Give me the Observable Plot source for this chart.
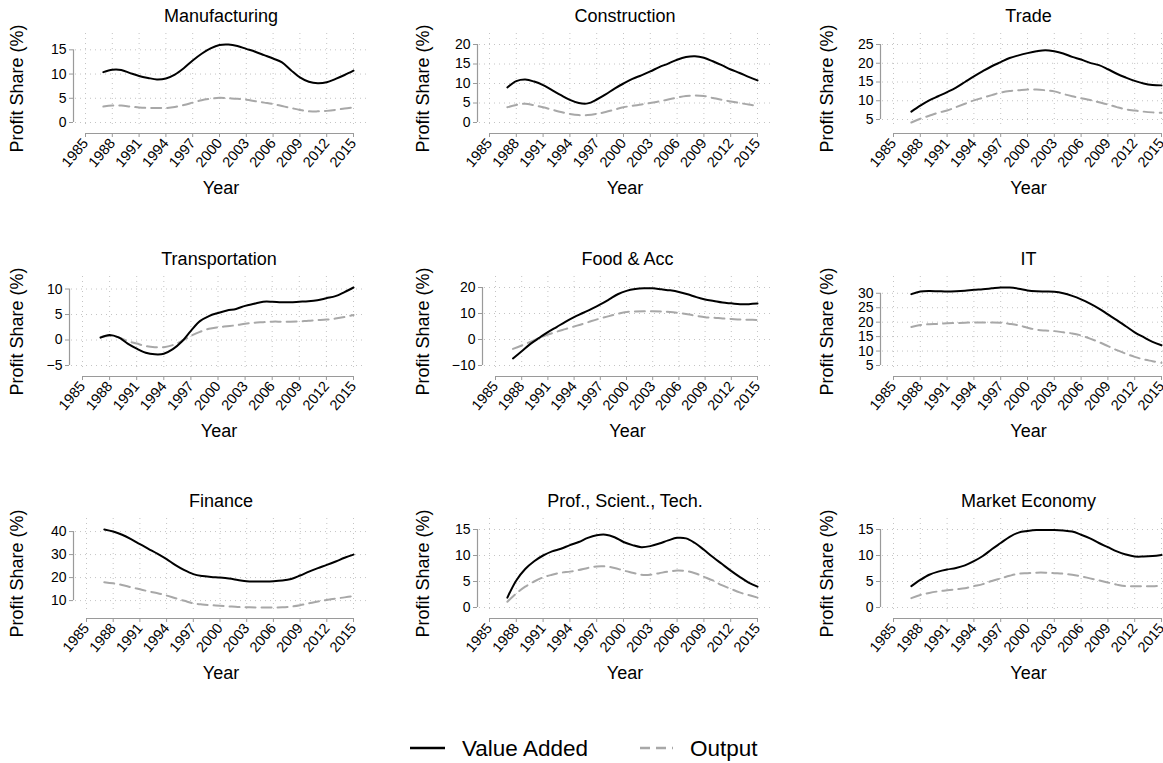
<!DOCTYPE html>
<html><head><meta charset="utf-8">
<script src="https://cdn.jsdelivr.net/npm/d3@7"></script>
<script src="https://cdn.jsdelivr.net/npm/@observablehq/plot@0.6"></script>
<style>
body{margin:0;background:#fff;font-family:"Liberation Sans",Arial,Helvetica,sans-serif;}
#root{position:relative;width:1163px;height:763px;overflow:hidden;background:#fff;}
.panel{position:absolute;}
#legend{position:absolute;left:0;top:728px;}
</style></head><body><div id="root"></div><script>
// ---- data ----
const years = [1987,1988,1989,1990,1991,1992,1993,1994,1995,1996,1997,1998,1999,2000,2001,2002,2003,2004,2005,2006,2007,2008,2009,2010,2011,2012,2013,2014,2015];
const xTicks = [1985,1988,1991,1994,1997,2000,2003,2006,2009,2012,2015];
const sectors = ["Manufacturing","Construction","Trade","Transportation","Food & Acc","IT","Finance","Prof., Scient., Tech.","Market Economy"];

const vaManufacturing = [10.4,10.9,10.85,10.2,9.6,9.2,8.9,9.1,9.9,11.2,12.8,14.2,15.3,16.0,16.1,15.8,15.2,14.6,13.9,13.2,12.4,10.8,9.3,8.4,8.1,8.3,9.0,9.8,10.7];
const outManufacturing = [3.3,3.5,3.5,3.3,3.1,3.0,3.0,3.0,3.2,3.6,4.1,4.6,4.9,5.1,5.0,4.9,4.7,4.4,4.1,3.8,3.4,3.0,2.6,2.3,2.3,2.4,2.6,2.9,3.1];
const vaConstruction = [9.0,10.6,11.0,10.5,9.6,8.3,7.0,5.8,5.0,4.9,5.9,7.2,8.7,10.0,11.2,12.1,13.1,14.2,15.1,16.1,16.8,17.0,16.6,15.7,14.7,13.6,12.7,11.7,10.8];
const outConstruction = [3.9,4.5,4.8,4.4,3.9,3.3,2.7,2.2,1.9,1.9,2.2,2.7,3.3,3.9,4.3,4.6,5.0,5.4,5.9,6.4,6.8,6.9,6.8,6.3,5.8,5.4,5.0,4.6,4.3];
const vaTrade = [7.1,8.7,10.1,11.2,12.3,13.5,15.0,16.5,17.9,19.2,20.3,21.4,22.1,22.7,23.2,23.5,23.2,22.6,21.7,21.0,20.1,19.5,18.4,17.2,16.2,15.3,14.6,14.2,14.1];
const outTrade = [4.2,5.2,6.0,6.8,7.4,8.3,9.2,10.1,10.8,11.5,12.2,12.6,12.8,13.0,13.0,12.8,12.5,11.8,11.2,10.7,10.2,9.6,9.0,8.3,7.7,7.4,7.1,6.9,6.8];
const vaTransportation = [0.46,1.0,0.5,-0.7,-1.7,-2.5,-2.8,-2.7,-1.8,-0.3,1.8,3.7,4.7,5.3,5.8,6.1,6.7,7.1,7.5,7.5,7.4,7.4,7.5,7.6,7.8,8.2,8.6,9.4,10.3];
const outTransportation = [0.6,0.8,0.5,-0.2,-0.7,-1.2,-1.4,-1.4,-1.0,-0.2,0.8,1.6,2.2,2.5,2.7,2.9,3.2,3.4,3.5,3.6,3.6,3.6,3.65,3.8,3.9,4.0,4.2,4.5,4.9];
const vaFood = [-7.3,-4.5,-1.7,0.6,2.8,4.8,6.8,8.6,10.2,11.8,13.5,15.4,17.4,18.7,19.4,19.7,19.7,19.3,18.9,18.3,17.4,16.3,15.4,14.8,14.2,13.9,13.6,13.6,13.8];
const outFood = [-3.6,-2.3,-0.9,0.6,1.9,3.0,4.0,5.0,6.0,7.1,8.1,9.0,9.9,10.6,10.8,10.9,10.9,10.8,10.6,10.2,9.7,9.1,8.6,8.4,8.1,7.9,7.7,7.6,7.5];
const vaIT = [29.7,30.6,30.8,30.7,30.6,30.7,30.9,31.2,31.4,31.7,32.0,32.0,31.6,31.0,30.7,30.6,30.5,30.0,29.1,27.9,26.4,24.7,22.7,20.7,18.6,16.5,14.8,13.2,12.0];
const outIT = [18.3,19.0,19.3,19.4,19.6,19.7,19.8,19.9,19.9,19.9,19.8,19.4,18.9,18.1,17.4,17.1,16.9,16.5,16.1,15.4,14.3,13.1,11.7,10.3,9.1,8.0,7.1,6.5,5.9];
const vaFinance = [40.9,40.0,38.6,36.7,34.5,32.4,30.3,28.0,25.4,23.2,21.5,20.7,20.3,20.0,19.6,19.0,18.4,18.3,18.3,18.4,18.7,19.4,20.9,22.6,24.1,25.5,27.0,28.6,30.0];
const outFinance = [18.0,17.5,16.8,15.8,14.9,14.0,13.2,12.2,11.0,9.9,8.8,8.3,8.0,7.8,7.5,7.2,7.1,7.0,7.0,7.0,7.1,7.4,8.0,8.8,9.6,10.3,10.9,11.4,12.0];
const vaProf = [1.9,5.2,7.4,8.9,10.0,10.8,11.3,12.0,12.6,13.4,13.9,14.0,13.5,12.6,12.0,11.6,11.8,12.3,12.9,13.4,13.3,12.4,11.1,9.7,8.4,7.1,5.9,4.8,4.0];
const outProf = [1.1,2.7,4.0,5.0,5.8,6.3,6.7,6.9,7.2,7.6,7.9,7.9,7.6,7.1,6.7,6.3,6.3,6.6,6.9,7.1,7.0,6.6,5.9,5.2,4.3,3.6,2.9,2.4,1.9];
const vaMarket = [4.1,5.3,6.3,6.9,7.3,7.6,8.1,8.9,9.9,11.2,12.4,13.6,14.4,14.7,14.9,14.9,14.9,14.8,14.6,14.0,13.3,12.4,11.6,10.8,10.2,9.8,9.8,9.9,10.1];
const outMarket = [1.8,2.4,2.8,3.1,3.3,3.5,3.7,4.1,4.5,5.1,5.6,6.1,6.5,6.6,6.7,6.7,6.6,6.5,6.3,6.0,5.6,5.2,4.8,4.4,4.1,4.1,4.1,4.1,4.2];

const yTicksList = [[0,5,10,15],[0,5,10,15,20],[5,10,15,20,25],[-5,0,5,10],[-10,0,10,20],[5,10,15,20,25,30],[10,20,30,40],[0,5,10,15],[0,5,10,15]];
const vaList = [vaManufacturing,vaConstruction,vaTrade,vaTransportation,vaFood,vaIT,vaFinance,vaProf,vaMarket];
const outList = [outManufacturing,outConstruction,outTrade,outTransportation,outFood,outIT,outFinance,outProf,outMarket];

// ---- layout ----
const W = 404, H = 243;
const colLeft = [0, 406, 810], rowTop = [0, 243, 485];
const axisLineX = [73,71,70,69,76,70,73,71,70];
const x1985px = [85,83,83,82,89,83,86,83,83];
const x2015px = [353,351,351];
const FONT = "'Liberation Sans', Arial, Helvetica, sans-serif";
const GRID = "#c4c4c4", AXIS = "#9a9a9a";
const fmtY = d => d < 0 ? "\u2212" + (-d) : String(d);

const root = document.getElementById("root");
sectors.forEach((name, i) => {
  const r = Math.floor(i / 3), c = i % 3;
  const rows = years.map((yr, j) => ({year: yr, va: vaList[i][j], out: outList[i][j]}));
  const ticks = yTicksList[i];
  const all = [...vaList[i], ...outList[i], ...ticks];
  const lo = d3.min(all), hi = d3.max(all);
  const ax = axisLineX[i], x0 = x1985px[i], x1 = x2015px[c];
  const mLeft = ax + 2, mRight = W - (x1 + 13);
  const frameTop = 33, frameBottom = 127;
  const svg = Plot.plot({
    width: W, height: H,
    marginLeft: mLeft, marginRight: mRight, marginTop: frameTop, marginBottom: H - frameBottom,
    style: {fontFamily: FONT, fontSize: "14px", color: "black", background: "transparent", overflow: "visible"},
    x: {domain: [1985, 2015], range: [x0, x1], axis: null},
    y: {domain: [lo, hi], range: [122, 44], axis: null},
    marks: [
      Plot.gridY(ticks, {stroke: GRID, strokeOpacity: 1, strokeDasharray: "1,4"}),
      Plot.gridX(xTicks, {stroke: GRID, strokeOpacity: 1, strokeDasharray: "1,4"}),
      Plot.ruleX([1985], {y1: d3.min(ticks), y2: d3.max(ticks), dx: ax - x0, stroke: AXIS, strokeWidth: 1.2}),
      Plot.axisY(ticks, {anchor: "left", dx: -2, tickSize: 4, tickPadding: 3, stroke: AXIS, fill: "black", fontSize: 14, tickFormat: fmtY, label: null, ariaLabel: "yticks"}),
      Plot.ruleY([lo], {x1: 1985, x2: 2015, dy: 11, stroke: AXIS, strokeWidth: 1.2}),
      Plot.axisX(xTicks, {anchor: "bottom", dy: 6, tickSize: 4, stroke: AXIS, tickFormat: () => "", label: null, ariaLabel: "xticks"}),
      Plot.text(xTicks, {x: d => d, text: d => String(d), frameAnchor: "bottom", dy: 13, rotate: -50, textAnchor: "end", lineAnchor: "middle", fontSize: 14.5, fill: "black"}),
      Plot.line(rows, {x: "year", y: "out", stroke: "#a8a8a8", strokeWidth: 2, strokeDasharray: "10,6", curve: "catmull-rom"}),
      Plot.line(rows, {x: "year", y: "va", stroke: "black", strokeWidth: 2, curve: "catmull-rom"}),
      Plot.text([name], {frameAnchor: "top", dy: -17, textAnchor: "middle", lineAnchor: "middle", fontSize: 18, fill: "black"}),
      Plot.text(["Year"], {frameAnchor: "bottom", dy: 61, textAnchor: "middle", lineAnchor: "middle", fontSize: 18, fill: "black"}),
      Plot.text(["Profit Share (%)"], {frameAnchor: "left", dx: 17 - mLeft, dy: 8, rotate: -90, textAnchor: "middle", lineAnchor: "middle", fontSize: 18, fill: "black"})
    ]
  });
  svg.classList.add("panel");
  svg.style.left = colLeft[c] + "px";
  svg.style.top = rowTop[r] + "px";
  svg.style.position = "absolute";
  root.appendChild(svg);
});

// legend
const legend = document.createElementNS("http://www.w3.org/2000/svg", "svg");
legend.setAttribute("id", "legend");
legend.setAttribute("width", 1163);
legend.setAttribute("height", 35);
const LF = FONT.replace(/'/g, "");
legend.innerHTML = `
  <line x1="410" x2="445" y1="20" y2="20" stroke="black" stroke-width="2.5"/>
  <text x="462" y="20" dy="0.35em" font-size="22.5" font-family="${LF}" fill="black">Value Added</text>
  <line x1="640" x2="673" y1="20" y2="20" stroke="#a8a8a8" stroke-width="2.5" stroke-dasharray="10,6"/>
  <text x="690" y="20" dy="0.35em" font-size="22.5" font-family="${LF}" fill="black">Output</text>`;
root.appendChild(legend);
</script></body></html>
